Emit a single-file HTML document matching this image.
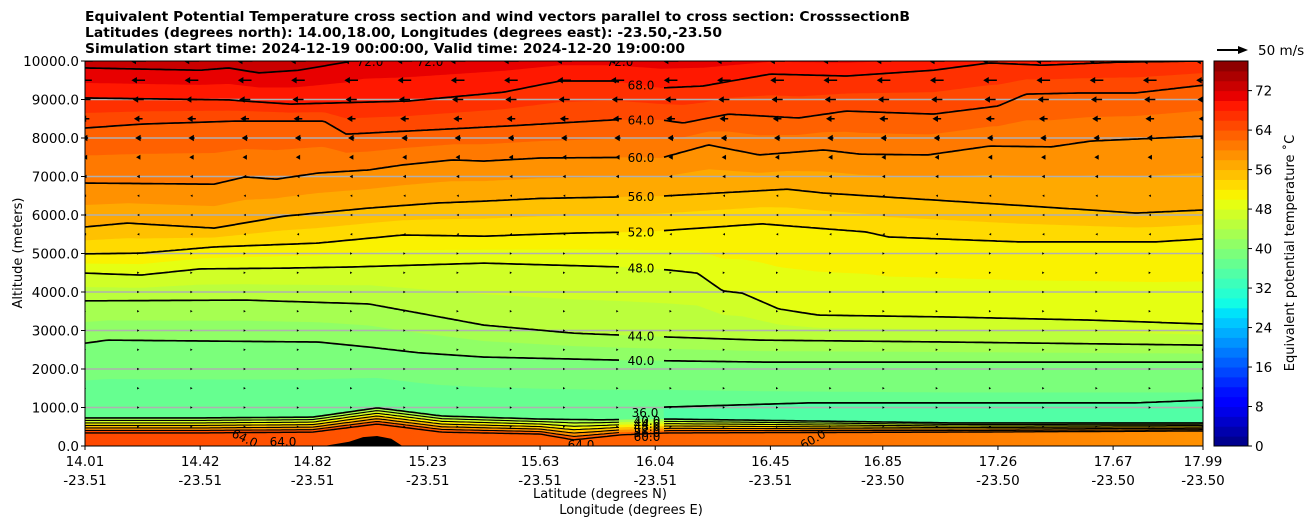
<!DOCTYPE html>
<html><head><meta charset="utf-8">
<style>
html,body{margin:0;padding:0;background:#fff;}
svg{display:block;font-family:"DejaVu Sans","Liberation Sans",sans-serif;}
</style></head>
<body>
<svg id="chart" width="1308" height="526" viewBox="0 0 1308 526" xmlns="http://www.w3.org/2000/svg">
  <g font-weight="bold" font-size="13" fill="#000">
    <text x="85" y="21" textLength="825" lengthAdjust="spacingAndGlyphs">Equivalent Potential Temperature cross section and wind vectors parallel to cross section: CrosssectionB</text>
    <text x="85" y="37" textLength="637" lengthAdjust="spacingAndGlyphs">Latitudes (degrees north): 14.00,18.00, Longitudes (degrees east): -23.50,-23.50</text>
    <text x="85" y="53" textLength="600" lengthAdjust="spacingAndGlyphs">Simulation start time: 2024-12-19 00:00:00, Valid time: 2024-12-20 19:00:00</text>
  </g>
  <defs><clipPath id="plotclip"><rect x="85" y="61" width="1118" height="385"/></clipPath></defs>
  <g id="fills" clip-path="url(#plotclip)"></g>
  <g id="grid"></g>
  <g id="lines" clip-path="url(#plotclip)"></g>
  <g id="arrows" clip-path="url(#plotclip)"></g>
  <g id="clabels" clip-path="url(#plotclip)" font-size="12" fill="#000" text-anchor="middle"></g>
  <rect x="85" y="61" width="1118" height="385" fill="none" stroke="#000" stroke-width="1"/>
  <g id="axes" font-size="13.5" fill="#000"></g>
  <g id="cbar"></g>
  <g>
    <line x1="1217" y1="50" x2="1240" y2="50" stroke="#000" stroke-width="2"/>
    <polygon points="1248,50 1238,46 1238,54" fill="#000"/>
    <text x="1258" y="55" font-size="13.5">50 m/s</text>
  </g>
  <text x="600" y="498" font-size="13" text-anchor="middle">Latitude (degrees N)</text>
  <text x="631" y="514" font-size="13" text-anchor="middle">Longitude (degrees E)</text>
  <text transform="translate(22,253) rotate(-90)" font-size="13" text-anchor="middle">Altitude (meters)</text>
  <text transform="translate(1294,253) rotate(-90)" font-size="13" text-anchor="middle">Equivalent potential temperature ˚C</text>
</svg>
<script>
const latTicks = [14.01,14.42,14.82,15.23,15.63,16.04,16.45,16.85,17.26,17.67,17.99];
const lonTicks = ["-23.51","-23.51","-23.51","-23.51","-23.51","-23.51","-23.51","-23.50","-23.50","-23.50","-23.50"];
const altTicks = [0,1000,2000,3000,4000,5000,6000,7000,8000,9000,10000];
const cbarTicks = [0,8,16,24,32,40,48,56,64,72];
const cbarMax = 78;

const c40 = [[14.01,2670],[14.09,2750],[14.84,2700],[15.02,2570],[15.20,2420],[15.43,2310],[15.92,2230],[16.42,2180],[17.99,2180]];
const c44 = [[14.01,3770],[14.58,3790],[15.02,3690],[15.20,3450],[15.43,3140],[15.75,2930],[16.09,2830],[16.42,2750],[17.09,2700],[17.99,2620]];
const c48 = [[14.01,4490],[14.21,4440],[14.42,4600],[14.72,4620],[14.96,4650],[15.43,4750],[15.92,4650],[16.09,4570],[16.19,4490],[16.28,4030],[16.35,3970],[16.48,3560],[16.62,3400],[17.09,3350],[17.59,3270],[17.99,3170]];
const c52 = [[14.01,4990],[14.21,5010],[14.47,5170],[14.84,5270],[15.14,5480],[15.43,5450],[15.75,5530],[16.00,5560],[16.42,5770],[16.79,5560],[16.87,5430],[17.34,5300],[17.82,5300],[17.99,5380]];
const c56 = [[14.01,5690],[14.16,5790],[14.47,5660],[14.72,5970],[15.02,6180],[15.26,6310],[15.43,6360],[15.63,6430],[16.06,6490],[16.51,6670],[16.64,6570],[17.03,6390],[17.42,6210],[17.75,6050],[17.99,6130]];
const c60 = [[14.01,6830],[14.47,6800],[14.58,6990],[14.69,6930],[14.84,7090],[15.02,7170],[15.14,7300],[15.32,7430],[15.43,7400],[15.63,7480],[16.00,7500],[16.06,7480],[16.23,7820],[16.41,7560],[16.64,7690],[16.77,7580],[17.01,7560],[17.23,7790],[17.45,7770],[17.59,7920],[17.99,8050]];
const c64 = [[14.01,8260],[14.21,8360],[14.55,8440],[14.86,8440],[14.94,8100],[15.51,8310],[15.89,8470],[16.06,8470],[16.14,8390],[16.30,8620],[16.55,8520],[16.72,8700],[17.03,8620],[17.26,8830],[17.36,9140],[17.56,9170],[17.75,9170],[17.99,9370]];
const c68 = [[14.01,9040],[14.52,8990],[14.74,8880],[15.16,8960],[15.50,9190],[15.70,9480],[15.89,9480],[16.06,9300],[16.21,9350],[16.45,9660],[16.72,9610],[17.03,9760],[17.23,9950],[17.42,9890],[17.69,9970],[17.99,10000]];
const c72 = [[14.01,9820],[14.42,9760],[14.52,9820],[14.63,9690],[14.77,9760],[14.94,9970],[15.00,10150],[15.50,10300],[17.99,10300]];
const c36 = [[16.07,1010],[16.59,1120],[17.09,1120],[17.75,1120],[17.99,1190]];
const invTop = [[14.01,730],[14.42,730],[14.82,750],[15.05,990],[15.28,780],[15.63,700],[15.84,680],[16.09,700],[16.59,650],[17.09,600],[17.99,600]];
const sfcTop = [[14.01,340],[14.42,340],[14.82,360],[15.05,570],[15.28,360],[15.63,310],[15.75,160],[15.92,290],[16.09,340],[17.09,360],[17.99,390]];
const terrain = [[14.86,0],[14.95,110],[15.00,230],[15.05,260],[15.10,190],[15.14,0]];

const windAlts = [500,1000,1500,2000,2500,3000,3500,4000,4500,5000,5500,6000,6500,7000,7500,8000,8500,9000,9500,10000];
const windU = [1,2.5,1.5,1,1,1.5,1.5,1.5,1.5,0.5,-0.5,-1.5,-3,-5,-7,-10,-14,-18,-22,-25];

const contourLevels = [40,44,48,52,56,60,64,68,72];
const contourData = [c40,c44,c48,c52,c56,c60,c64,c68,c72];

const NS='http://www.w3.org/2000/svg';
const X0=85,X1=1203,Y0=61,Y1=446,LAT0=14.01,LAT1=17.99,ALTMAX=10000;
const xS = lat => X0 + (lat-LAT0)/(LAT1-LAT0)*(X1-X0);
const yS = alt => Y1 - alt/ALTMAX*(Y1-Y0);
const latOfX = x => LAT0 + (x-X0)/(X1-X0)*(LAT1-LAT0);
function evalC(arr, lat){
  if(lat<=arr[0][0]) return arr[0][1];
  for(let i=1;i<arr.length;i++){ if(lat<=arr[i][0]){const t=(lat-arr[i-1][0])/(arr[i][0]-arr[i-1][0]);return arr[i-1][1]+t*(arr[i][1]-arr[i-1][1]);} }
  return arr[arr.length-1][1];
}
function jetC(v){
  v=Math.max(0,Math.min(1,v));
  const seg=(pts)=>{for(let i=1;i<pts.length;i++){if(v<=pts[i][0]){const t=(v-pts[i-1][0])/(pts[i][0]-pts[i-1][0]);return pts[i-1][1]+t*(pts[i][1]-pts[i-1][1]);}}return pts[pts.length-1][1];};
  const r=seg([[0,0],[0.35,0],[0.66,1],[0.89,1],[1,0.5]]);
  const g=seg([[0,0],[0.125,0],[0.375,1],[0.64,1],[0.91,0],[1,0]]);
  const b=seg([[0,0.5],[0.11,1],[0.34,1],[0.65,0],[1,0]]);
  return `rgb(${Math.round(r*255)},${Math.round(g*255)},${Math.round(b*255)})`;
}
const bandColor = L => jetC((L+1)/cbarMax);
function mk(tag, attrs, parent){const e=document.createElementNS(NS,tag);for(const k in attrs)e.setAttribute(k,attrs[k]);parent.appendChild(e);return e;}
const xsSamp=[];for(let x=X0;x<=X1;x+=3)xsSamp.push(x);xsSamp.push(X1);
function curveFn(fn){return xsSamp.map(x=>[x,yS(fn(latOfX(x)))]);}
function abovePoly(fn){const p=curveFn(fn);return p.map(q=>q[0].toFixed(1)+','+q[1].toFixed(1)).join(' ')+` ${X1},${Y0-20} ${X0},${Y0-20}`;}

const fills=document.getElementById('fills');
const defs=document.querySelector('defs');
const lg=mk('linearGradient',{id:'sfcgrad',x1:'0',x2:'1',y1:'0',y2:'0'},defs);
mk('stop',{offset:'0','stop-color':bandColor(64)},lg);
mk('stop',{offset:'0.5','stop-color':bandColor(62)},lg);
mk('stop',{offset:'1','stop-color':bandColor(58)},lg);
const base=mk('rect',{x:X0,y:Y0,width:X1-X0,height:Y1-Y0,fill:'url(#sfcgrad)'},fills);


const stackLevels=[58,54,50,46,42];
stackLevels.forEach((L,k)=>{
  const f=(k+1)/6;
  const p=mk('polygon',{points:abovePoly(lat=>evalC(sfcTop,lat)+(evalC(invTop,lat)-evalC(sfcTop,lat))*f),fill:bandColor(L)},fills);
  
  
});
const pInv=mk('polygon',{points:abovePoly(lat=>evalC(invTop,lat)),fill:bandColor(36)},fills);


{
  const xa=xS(c36[0][0]);const up=[],lo=[];
  for(let x=xa;x<=X1;x+=3){up.push([x,yS(evalC(c36,latOfX(x)))]);lo.push([x,yS(evalC(invTop,latOfX(x)))]);}
  up.push([X1,yS(evalC(c36,LAT1))]);lo.push([X1,yS(evalC(invTop,LAT1))]);
  const pts=up.concat(lo.reverse()).map(q=>q[0].toFixed(1)+','+q[1].toFixed(1)).join(' ');
  const b=mk('polygon',{points:pts,fill:bandColor(34)},fills);
  
  
}
const p38=mk('polygon',{points:abovePoly(lat=>(evalC(invTop,lat)+evalC(c40,lat))/2),fill:bandColor(38)},fills);


for(let L=40;L<=74;L+=2){
  let fn;
  const i=contourLevels.indexOf(L);
  if(i>=0){const arr=contourData[i];fn=lat=>evalC(arr,lat);}
  else if(L<72){const a=contourData[contourLevels.indexOf(L-2)],b=contourData[contourLevels.indexOf(L+2)];fn=lat=>(evalC(a,lat)+evalC(b,lat))/2;}
  else {fn=lat=>evalC(c72,lat)+400;}
  const p=mk('polygon',{points:abovePoly(fn),fill:bandColor(L)},fills);
  
  
}
{
  const pts=terrain.map(t=>xS(t[0]).toFixed(1)+','+yS(t[1]).toFixed(1)).join(' ');
  const t=mk('polygon',{points:pts,fill:'#000'},fills);
  
  
}
const grid=document.getElementById('grid');
altTicks.forEach(a=>{ if(a===0||a===ALTMAX) return;
  const l=mk('line',{x1:X0,x2:X1,y1:yS(a),y2:yS(a),stroke:'#b0b0b0','stroke-width':1.5},grid);
  
  
});
const lines=document.getElementById('lines');
const LABX=641;
function drawLine(fn,gap,xStart,name,sw){
  let d='',pen=false;
  for(const x of xsSamp){
    if(x<xStart){pen=false;continue;}
    if(gap&&x>LABX-22&&x<LABX+22){pen=false;continue;}
    const y=yS(fn(latOfX(x)));
    d+=(pen?'L':'M')+x.toFixed(1)+','+y.toFixed(1);pen=true;
  }
  const p=mk('path',{d:d,fill:'none',stroke:'#000','stroke-width':sw||1.7,'stroke-linejoin':'round'},lines);
  
  
}
drawLine(lat=>evalC(sfcTop,lat),false,X0,'contour-surface',1.4);
for(let k=1;k<=5;k++){const f=k/6;drawLine(lat=>evalC(sfcTop,lat)+(evalC(invTop,lat)-evalC(sfcTop,lat))*f,true,X0,'contour-inversion',1.1);}
drawLine(lat=>evalC(invTop,lat),true,X0,'contour-inversion-top',1.6);
drawLine(lat=>evalC(c36,lat),false,xS(c36[0][0]),'contour-36');
contourData.forEach((arr,i)=>drawLine(lat=>evalC(arr,lat),true,X0,'contour-'+contourLevels[i]));
const cl=document.getElementById('clabels');
contourData.forEach((arr,i)=>{
  const t=mk('text',{x:LABX,y:(yS(evalC(arr,latOfX(LABX)))+4.5).toFixed(1)},cl);
  
  
  t.textContent=contourLevels[i].toFixed(1);
});
[['36.0',645,417],['40.0',647,425],['44.0',647,428],['48.0',647,431],['52.0',647,434],['56.0',647,437],['60.0',647,441],['64.0',581,449],['64.0',283,446],['72.0',370,66],['72.0',430,66],['72.0',620,66]].forEach(l=>{
  const t=mk('text',{x:l[1],y:l[2]},cl);
  
  
  t.textContent=l[0];
});
[['64.0',243,442,25],['60.0',815,443,-30]].forEach(l=>{
  const t=mk('text',{x:l[1],y:l[2],transform:`rotate(${l[3]},${l[1]},${l[2]})`},cl);
  
  
  t.textContent=l[0];
});
const ar=document.getElementById('arrows');
const PXPERMS=0.62;
for(let c=0;c<22;c++){
  const x=X0+c*(X1-X0)/21;
  windAlts.forEach((a,r)=>{
    const u=windU[r];const y=yS(a);const L=Math.abs(u)*PXPERMS;const s=Math.sign(u)||1;
    const hl=Math.min(Math.max(L,2.2),5.5);const hw=Math.max(1.3,3.2*hl/5.5);
    const tipx=x+s*L/2, tailx=x-s*L/2;
    let pts;
    if(L<=hl){pts=`${x+s*hl/2},${y} ${x-s*hl/2},${y-hw} ${x-s*hl/2},${y+hw}`;}
    else{const bx=tipx-s*hl;pts=`${tailx},${y-0.8} ${bx},${y-0.8} ${bx},${y-hw} ${tipx},${y} ${bx},${y+hw} ${bx},${y+0.8} ${tailx},${y+0.8}`;}
    const p=mk('polygon',{points:pts,fill:'#000'},ar);
    
    
  });
}
const ax=document.getElementById('axes');
altTicks.forEach(a=>{
  const y=yS(a);
  const l=mk('line',{x1:X0-4,x2:X0,y1:y,y2:y,stroke:'#000'},ax);
  
  
  const t=mk('text',{x:X0-6,y:y+5,'text-anchor':'end'},ax);
  
  
  t.textContent=a.toFixed(1);
});
latTicks.forEach((lat,i)=>{
  const x=xS(lat);
  const l=mk('line',{x1:x,x2:x,y1:Y1,y2:Y1+4,stroke:'#000'},ax);
  
  
  const t=mk('text',{x:x,y:Y1+20,'text-anchor':'middle'},ax);
  
  
  t.textContent=lat.toFixed(2);
  const t2=mk('text',{x:x,y:Y1+39,'text-anchor':'middle'},ax);
  
  
  t2.textContent=lonTicks[i];
});
const cb=document.getElementById('cbar');
const CBX=1214,CBW=34;const cbY=v=>Y1-v/cbarMax*(Y1-Y0);
for(let L=0;L<cbarMax;L+=2){
  const r=mk('rect',{x:CBX,y:cbY(L+2),width:CBW,height:cbY(L)-cbY(L+2)+0.5,fill:bandColor(L)},cb);
  
  
}
const cbf=mk('rect',{x:CBX,y:Y0,width:CBW,height:Y1-Y0,fill:'none',stroke:'#000'},cb);


cbarTicks.forEach(v=>{
  const y=cbY(v);
  const l=mk('line',{x1:CBX+CBW,x2:CBX+CBW+4,y1:y,y2:y,stroke:'#000'},cb);
  
  
  const t=mk('text',{x:CBX+CBW+7,y:y+5,'font-size':13.5},cb);
  
  
  t.textContent=v;
});
</script>
</body></html>
